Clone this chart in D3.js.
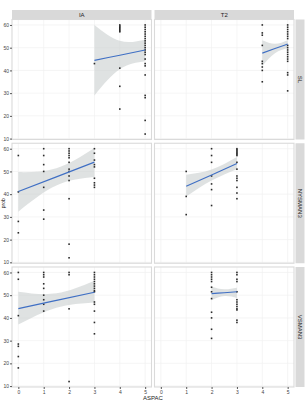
<!DOCTYPE html>
<html>
<head>
<meta charset="utf-8">
<script src="https://cdn.jsdelivr.net/npm/d3@7"></script>
<style>
  body { margin: 0; background: #fff; }
  text { font-family: "Liberation Sans", Arial, sans-serif; }
</style>
</head>
<body>
<div id="chart"></div>
<script>
// facet labels
const cols = ["IA", "T2"];
const rows = ["SL", "NYSMAN3", "VSMAN3"];
const xTicks = [0, 1, 2, 3, 4, 5];
const yTicks = [10, 20, 30, 40, 50, 60];

// points per panel [ASPAC, value]
const pts_SL_IA = [[3,43],[4,60],[4,59.5],[4,59],[4,58.5],[4,58],[4,57.5],[4,57],[4,41],[4,33],[4,23],
  [5,60],[5,59],[5,58],[5,57],[5,56],[5,55],[5,54],[5,53],[5,52],[5,51],[5,50],[5,49],[5,48],[5,47],
  [5,45],[5,43],[5,42],[5,38],[5,29],[5,28],[5,18],[5,12]];
const pts_SL_T2 = [[4,60],[4,56.5],[4,55.5],[4,51],[4,44],[4,43],[4,41.5],[4,40],[4,35],
  [5,60],[5,59],[5,58],[5,57],[5,56],[5,55],[5,54],[5,51],[5,50],[5,49],[5,48],[5,47],[5,46],[5,45],[5,44],
  [5,39],[5,38],[5,31]];
const pts_NY_IA = [[0,57],[0,41],[0,28],[0,23],
  [1,60],[1,57],[1,53],[1,50],[1,43],[1,33],[1,29],
  [2,60],[2,59],[2,58],[2,57],[2,56],[2,54],[2,51],[2,50],[2,48],[2,46],[2,38],[2,18],[2,12],
  [3,60],[3,58],[3,55],[3,53],[3,52],[3,47],[3,45],[3,44],[3,43]];
const pts_NY_T2 = [[1,50],[1,39],[1,31],
  [2,60],[2,57],[2,54],[2,48],[2,44.5],[2,42],[2,35],
  [3,60],[3,59.5],[3,59],[3,58.5],[3,58],[3,57.5],[3,57],[3,54],[3,51],[3,48],[3,47],[3,46],[3,43],[3,40.5],[3,38]];
const pts_VS_IA = [[0,60],[0,57],[0,41],[0,28.5],[0,27.5],[0,23],[0,18],
  [1,60],[1,59],[1,58],[1,55],[1,53],[1,50],[1,48],[1,46],[1,43],
  [2,60],[2,59],[2,44],[2,12],
  [3,60],[3,59],[3,58],[3,57],[3,56],[3,55],[3,54],[3,53],[3,52],[3,51.5],[3,47],[3,46],[3,43],[3,38],[3,33]];
const pts_VS_T2 = [[2,60],[2,59],[2,58],[2,57],[2,56],[2,53.5],[2,51.5],[2,48.5],[2,42.5],[2,40],[2,35],[2,31],
  [3,60],[3,59],[3,57],[3,56],[3,51.5],[3,48],[3,47],[3,46],[3,45],[3,44],[3,43.5],[3,39],[3,38]];

// smooth fit: x, fit, lower, upper
const fit_SL_IA = [[3,44.4,29,60],[4,46.7,40.5,53],[5,49,44,53.5]];
const fit_SL_T2 = [[4,47.6,42.1,53.3],[4.5,49.6,47.6,51.7],[5,51.6,49.9,53.3]];
const fit_NY_IA = [[0,41.2,32.3,49.7],[1.5,47.6,43.8,51.4],[3,54.1,47.5,60.3]];
const fit_NY_T2 = [[1,43.5,39,48.5],[2,48.4,46,50.8],[3,53.5,51,56.3]];
const fit_VS_IA = [[0,44.1,37.1,51.5],[1.5,47.7,44.5,50.8],[3,51.3,46.8,56.3]];
const fit_VS_T2 = [[2,50.7,47.8,53.7],[2.5,51.1,49.6,52.6],[3,51.5,48.8,53.3]];

const panels = [
  [pts_SL_IA, fit_SL_IA], [pts_SL_T2, fit_SL_T2],
  [pts_NY_IA, fit_NY_IA], [pts_NY_T2, fit_NY_T2],
  [pts_VS_IA, fit_VS_IA], [pts_VS_T2, fit_VS_T2]
];

const width = 305, height = 401;
const svg = d3.select("#chart").append("svg")
  .attr("width", width).attr("height", height);

const padL = 12, padT = 19.5, pw = 139.5, ph = 120, gapX = 3, gapY = 3.75;

const x = d3.scaleLinear().domain([-0.25, 5.25]).range([0, pw]);
const y = d3.scaleLinear().domain([9.6, 62.4]).range([ph, 0]);

const area = d3.area().curve(d3.curveNatural)
  .x(d => x(d[0])).y0(d => y(d[2])).y1(d => y(d[3]));
const line = d3.line().curve(d3.curveNatural)
  .x(d => x(d[0])).y(d => y(d[1]));

panels.forEach((p, i) => {
  const c = i % 2, r = Math.floor(i / 2);
  const g = svg.append("g")
    .attr("transform", `translate(${padL + c * (pw + gapX)},${padT + r * (ph + gapY)})`);

  g.append("rect").attr("width", pw).attr("height", ph).attr("fill", "#fff");

  // faint grid
  g.selectAll(".gx").data(xTicks).enter().append("line")
    .attr("x1", d => x(d)).attr("x2", d => x(d)).attr("y1", 0).attr("y2", ph)
    .attr("stroke", "#f1f1f1").attr("stroke-width", 0.7);
  g.selectAll(".gy").data(yTicks).enter().append("line")
    .attr("y1", d => y(d)).attr("y2", d => y(d)).attr("x1", 0).attr("x2", pw)
    .attr("stroke", "#f1f1f1").attr("stroke-width", 0.7);

  g.append("path").datum(p[1]).attr("d", area)
    .attr("fill", "#c9cfcf").attr("opacity", 0.6);

  g.selectAll(".pt").data(p[0]).enter().append("rect")
    .attr("x", d => x(d[0]) - 0.8).attr("y", d => y(d[1]) - 0.8)
    .attr("width", 1.6).attr("height", 1.6).attr("fill", "#2b2b2b");

  g.append("path").datum(p[1]).attr("d", line)
    .attr("fill", "none").attr("stroke", "#3f6fc4").attr("stroke-width", 1.1);

  g.append("rect").attr("width", pw).attr("height", ph)
    .attr("fill", "none").attr("stroke", "#dadada").attr("stroke-width", 1.1);

  // y axis on left column
  if (c === 0) {
    const ya = g.append("g").call(d3.axisLeft(y).tickValues(yTicks).tickFormat(d3.format("d"))
      .tickSize(2).tickPadding(1));
    ya.select(".domain").remove();
    ya.selectAll("line").attr("stroke", "#555");
    ya.selectAll("text").attr("font-size", 5).attr("fill", "#444");
  }
  // x axis on bottom row
  if (r === 2) {
    const xa = g.append("g").attr("transform", `translate(0,${ph})`)
      .call(d3.axisBottom(x).tickValues(xTicks).tickFormat(d3.format("d"))
        .tickSize(2).tickPadding(1));
    xa.select(".domain").remove();
    xa.selectAll("line").attr("stroke", "#555");
    xa.selectAll("text").attr("font-size", 5).attr("fill", "#444");
  }
});

// top strips
cols.forEach((t, c) => {
  const sx = padL + c * (pw + gapX);
  svg.append("rect").attr("x", sx).attr("y", 10).attr("width", pw).attr("height", 9)
    .attr("fill", "#d9d9d9");
  svg.append("text").attr("x", sx + pw / 2).attr("y", 16.8).attr("text-anchor", "middle")
    .attr("font-size", 6).attr("fill", "#222").text(t);
});

// right strips
rows.forEach((t, r) => {
  const sy = padT + r * (ph + gapY);
  const sx = padL + 2 * pw + gapX + 1.5;
  svg.append("rect").attr("x", sx).attr("y", sy).attr("width", 9).attr("height", ph)
    .attr("fill", "#d9d9d9");
  svg.append("text")
    .attr("transform", `translate(${sx + 2.6},${sy + ph / 2}) rotate(90)`)
    .attr("text-anchor", "middle").attr("font-size", 6).attr("fill", "#222").text(t);
});

// axis titles
svg.append("text").attr("x", padL + pw + gapX / 2).attr("y", 400)
  .attr("text-anchor", "middle").attr("font-size", 6).attr("fill", "#222").text("ASPAC");
svg.append("text")
  .attr("transform", `translate(4.5,${padT + 1.5 * ph + gapY}) rotate(-90)`)
  .attr("text-anchor", "middle").attr("font-size", 5).attr("fill", "#222").text("prob");
</script>
</body>
</html>
